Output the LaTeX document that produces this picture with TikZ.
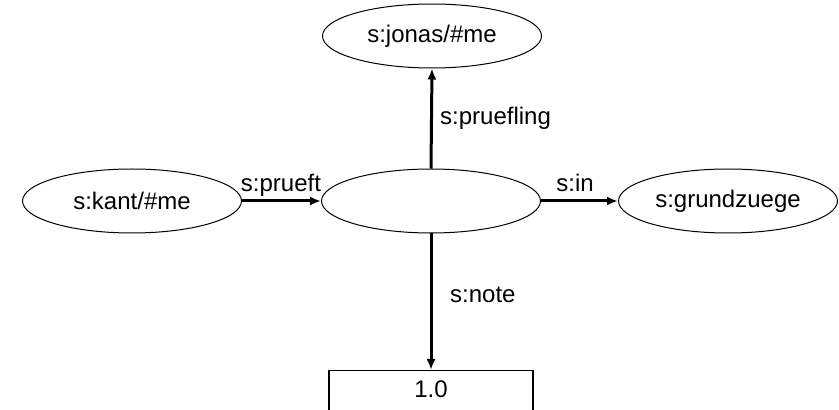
\documentclass[tikz,border=0pt]{standalone}
\usepackage{fontspec}
\setmainfont{Liberation Sans}
\usetikzlibrary{shapes.geometric,arrows.meta}
\begin{document}
\begin{tikzpicture}[x=1pt,y=1pt,
  every node/.style={font=\fontsize{24}{28}\selectfont},
  res/.style={ellipse,draw,line width=1pt,minimum width=219pt,minimum height=64pt,inner sep=0pt},
  lit/.style={rectangle,draw,line width=1.3pt,minimum width=204pt,inner sep=0pt,text height=27pt,text depth=40pt},
  prop/.style={draw,line width=3pt,-{Latex[length=11pt,width=9pt]}},
  lbl/.style={inner sep=0pt}]
\useasboundingbox (0,0) rectangle (839,410);
\node[res] (jonas) at (432,374) {s:jonas/\#me};
\node[res] (kant)  at (132,209) {s:kant/\#me};
\node[res] (mid)   at (431,209) {};
\node[res] (grund) at (728,209) {s:grundzuege};
\node[lit,anchor=north] (val) at (431,40) {1.0};
\draw[prop] (mid.north) -- (jonas.south);
\draw[prop] (kant.east) -- (mid.west);
\draw[prop] (mid.east) -- (grund.west);
\draw[prop] (mid.south) -- (val.north);
\node[lbl,anchor=west] (l1) at (440,292) {s:pruefling};
\node[lbl] (l2) at (281,225) {s:prueft};
\node[lbl] (l3) at (575,227) {s:in};
\node[lbl,anchor=west] (l4) at (450,115) {s:note};
\end{tikzpicture}
\end{document}
